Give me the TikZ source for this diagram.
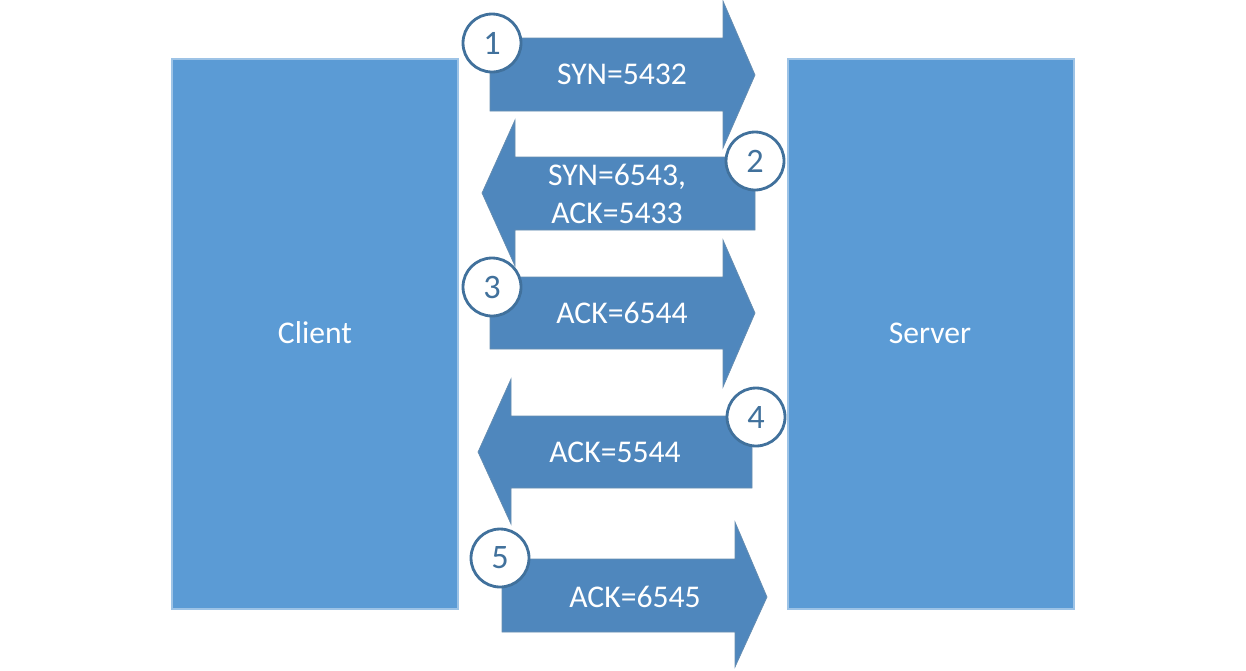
\documentclass[tikz,border=0pt]{standalone}
\usepackage{fontspec}
\setmainfont{Carlito}
\usepackage{xcolor}
\usetikzlibrary{positioning,calc}

\definecolor{boxblue}{HTML}{5B9BD5}
\definecolor{arrowblue}{HTML}{4F87BD}
\definecolor{edgeblue}{HTML}{41719C}

\tikzset{
    host/.style={fill=boxblue, draw=boxblue!60!white, line width=0.6pt},
    msg/.style={fill=arrowblue, draw=edgeblue!80, line width=0.4pt},
    msgtext/.style={text=white, font=\fontsize{18}{21.5}\selectfont, align=center},
    stepnum/.style={circle, draw=edgeblue, line width=1.6pt, fill=white, minimum size=1.16cm, inner sep=0pt, text=edgeblue, font=\fontsize{19.5}{22}\selectfont}
}

\begin{document}
\begin{tikzpicture}[x=0.02cm,y=-0.02cm]
    \useasboundingbox (0,0) rectangle (1246,670);

    % Client and Server
    \draw[host] (172,59) rectangle (458,609);
    \node[text=white, font=\fontsize{18}{21}\selectfont] (client) at (315,333) {Client};
    \draw[host] (788,59) rectangle (1074,609);
    \node[text=white, font=\fontsize{18}{21}\selectfont] (server) at (930,333) {Server};

    % 1: SYN
    \draw[msg] (490,38) -- (723,38) -- (723,1) -- (755,75) -- (723,148) -- (723,111) -- (490,111) -- cycle;
    \node[msgtext] (syn) at (622,74) {SYN=5432};

    % 2: SYN, ACK
    \draw[msg] (755,157) -- (515,157) -- (515,120) -- (482,193) -- (515,266) -- (515,230) -- (755,230) -- cycle;
    \node[msgtext] (synack) at (617,194) {SYN=6543,\\ACK=5433};

    % 3: ACK
    \draw[msg] (490,277) -- (723,277) -- (723,240) -- (755,313) -- (723,387) -- (723,349) -- (490,349) -- cycle;
    \node[msgtext] (ack) at (622,313) {ACK=6544};

    % 4: ACK
    \draw[msg] (752,416) -- (511,416) -- (511,379) -- (478,452) -- (511,524) -- (511,488) -- (752,488) -- cycle;
    \node[msgtext] (ackback) at (615,452) {ACK=5544};

    % 5: ACK
    \draw[msg] (502,559) -- (735,559) -- (735,522) -- (767,597) -- (735,667) -- (735,632) -- (502,632) -- cycle;
    \node[msgtext] (acklast) at (635,597) {ACK=6545};

    % step numbers
    \node[stepnum] (n1) at (492,43) {1};
    \node[stepnum] (n2) at (755,161) {2};
    \node[stepnum] (n3) at (492,287) {3};
    \node[stepnum] (n4) at (756,417) {4};
    \node[stepnum] (n5) at (500,558) {5};
\end{tikzpicture}
\end{document}
